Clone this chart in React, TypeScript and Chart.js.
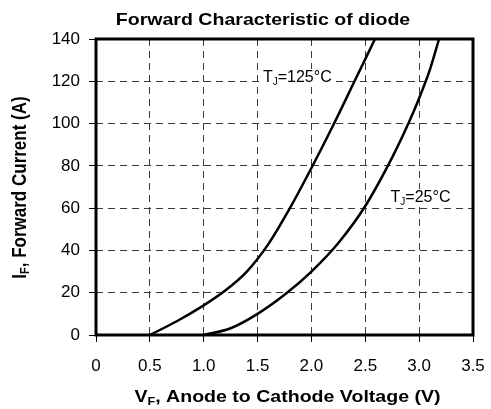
import React, { useEffect, useRef } from 'react';
import { Chart, registerables } from 'chart.js';

Chart.register(...registerables);

// ---- data ----
const TITLE = 'Forward Characteristic of diode';
const SERIES_NAMES = ['TJ=125°C', 'TJ=25°C'];
const V_125 = [0.5, 0.75, 1.0, 1.2, 1.4, 1.6, 1.8, 2.0, 2.2, 2.4, 2.59];
const I_125 = [0, 6.5, 14, 21, 30, 43, 60, 79, 99, 120, 140];
const V_25 = [1.0, 1.25, 1.5, 1.75, 2.0, 2.25, 2.5, 2.75, 2.9, 3.0, 3.1, 3.185];
const I_25 = [0, 3.2, 10, 19, 30, 43.5, 61, 84, 100, 112, 125.5, 140];
const X_MIN = 0, X_MAX = 3.5, X_STEP = 0.5;
const Y_MIN = 0, Y_MAX = 140, Y_STEP = 20;
// label anchors in data coordinates (V, A)
const LABEL_V = [1.55, 2.735];
const LABEL_I = [119.7, 62.9];

const FONT = "'Liberation Sans', Arial, Helvetica, sans-serif";

type Part = { t: string; sub?: boolean };

function richWidth(ctx: CanvasRenderingContext2D, parts: Part[], size: number, bold: boolean) {
  let w = 0;
  for (const p of parts) {
    ctx.font = `${bold ? 'bold ' : ''}${p.sub ? Math.round(size * 0.62) : size}px ${FONT}`;
    w += ctx.measureText(p.t).width;
  }
  return w;
}

function drawRich(ctx: CanvasRenderingContext2D, parts: Part[], x: number, y: number, size: number, bold: boolean) {
  let cx = x;
  ctx.textBaseline = 'alphabetic';
  ctx.textAlign = 'left';
  for (const p of parts) {
    const s = p.sub ? Math.round(size * 0.62) : size;
    ctx.font = `${bold ? 'bold ' : ''}${s}px ${FONT}`;
    ctx.fillText(p.t, cx, p.sub ? y + size * 0.2 : y);
    cx += ctx.measureText(p.t).width;
  }
}

function splitLabel(name: string): Part[] {
  return [{ t: name[0] }, { t: name[1], sub: true }, { t: name.slice(2) }];
}

const decoPlugin = {
  id: 'deco',
  beforeDatasetsDraw(chart: any) {
    const ctx: CanvasRenderingContext2D = chart.ctx;
    const xs = chart.scales.x, ys = chart.scales.y;
    ctx.save();
    SERIES_NAMES.forEach((name, i) => {
      const parts = splitLabel(name);
      const x = xs.getPixelForValue(LABEL_V[i]);
      const y = ys.getPixelForValue(LABEL_I[i]);
      const w = richWidth(ctx, parts, 16, false);
      ctx.fillStyle = '#fff';
      ctx.fillRect(x - 2, y - 13, w + 4, 17);
      ctx.fillStyle = '#000';
      drawRich(ctx, parts, x, y, 16, false);
    });
    ctx.restore();
  },
  afterDatasetsDraw(chart: any) {
    const ctx: CanvasRenderingContext2D = chart.ctx;
    const a = chart.chartArea;
    ctx.save();
    ctx.strokeStyle = '#000';
    ctx.lineWidth = 3;
    ctx.strokeRect(a.left, a.top, a.right - a.left, a.bottom - a.top);
    ctx.restore();
  },
  afterDraw(chart: any) {
    const ctx: CanvasRenderingContext2D = chart.ctx;
    const a = chart.chartArea;
    const stretch = 1.15;
    ctx.save();
    ctx.fillStyle = '#000';
    // main title (horizontally stretched like the reference)
    const tParts: Part[] = [{ t: TITLE }];
    const tw = richWidth(ctx, tParts, 17, true) * stretch;
    ctx.save();
    ctx.translate(263 - tw / 2, 25);
    ctx.scale(stretch, 1);
    drawRich(ctx, tParts, 0, 0, 17, true);
    ctx.restore();
    // x title
    const xParts: Part[] = [{ t: 'V' }, { t: 'F', sub: true }, { t: ', Anode to Cathode Voltage (V)' }];
    const xw = richWidth(ctx, xParts, 17, true) * stretch;
    ctx.save();
    ctx.translate(287.5 - xw / 2, 401.5);
    ctx.scale(stretch, 1);
    drawRich(ctx, xParts, 0, 0, 17, true);
    ctx.restore();
    // y title
    const yParts: Part[] = [{ t: 'I' }, { t: 'F', sub: true }, { t: ', Forward Current (A)' }];
    const yw = richWidth(ctx, yParts, 17, true);
    ctx.translate(25.5, (a.top + a.bottom) / 2 + 0.5);
    ctx.rotate(-Math.PI / 2);
    ctx.scale(1, stretch);
    drawRich(ctx, yParts, -yw / 2, 0, 17, true);
    ctx.restore();
  },
};

export default function App() {
  const ref = useRef<HTMLCanvasElement | null>(null);
  useEffect(() => {
    if (!ref.current) return;
    const tickFont = { family: FONT, size: 17 };
    const chart = new Chart(ref.current, {
      type: 'scatter',
      data: {
        datasets: [
          {
            label: SERIES_NAMES[0],
            data: V_125.map((v, i) => ({ x: v, y: I_125[i] })),
            showLine: true,
            borderColor: '#000',
            borderWidth: 2.5,
            pointRadius: 0,
            cubicInterpolationMode: 'monotone',
          },
          {
            label: SERIES_NAMES[1],
            data: V_25.map((v, i) => ({ x: v, y: I_25[i] })),
            showLine: true,
            borderColor: '#000',
            borderWidth: 2.5,
            pointRadius: 0,
            cubicInterpolationMode: 'monotone',
          },
        ],
      },
      options: {
        animation: false,
        responsive: false,
        devicePixelRatio: 1,
        layout: { padding: { top: 39, right: 18, left: 0, bottom: 0 } },
        plugins: { legend: { display: false }, title: { display: false }, tooltip: { enabled: false } },
        scales: {
          x: {
            type: 'linear',
            min: X_MIN,
            max: X_MAX,
            ticks: { stepSize: X_STEP, color: '#000', font: tickFont, padding: 14, maxRotation: 0 },
            grid: { color: '#3a3a3a', lineWidth: 1, tickColor: '#000', tickLength: 7, tickWidth: 1 },
            border: { display: false, dash: [7, 5] },
            afterFit: (s: any) => { s.height = 74; s.paddingLeft = 0; s.paddingRight = 0; },
          },
          y: {
            type: 'linear',
            min: Y_MIN,
            max: Y_MAX,
            ticks: { stepSize: Y_STEP, color: '#000', font: tickFont, padding: 9 },
            grid: { color: '#3a3a3a', lineWidth: 1, tickColor: '#000', tickLength: 7, tickWidth: 1 },
            border: { display: false, dash: [7, 5] },
            afterFit: (s: any) => { s.width = 96; s.paddingTop = 0; s.paddingBottom = 0; },
          },
        },
      } as any,
      plugins: [decoPlugin],
    });
    return () => chart.destroy();
  }, []);
  return (
    <div style={{ position: 'absolute', left: 0, top: 0, width: 491, height: 409, background: '#fff' }}>
      <canvas ref={ref} width={491} height={409} style={{ display: 'block' }} />
    </div>
  );
}
